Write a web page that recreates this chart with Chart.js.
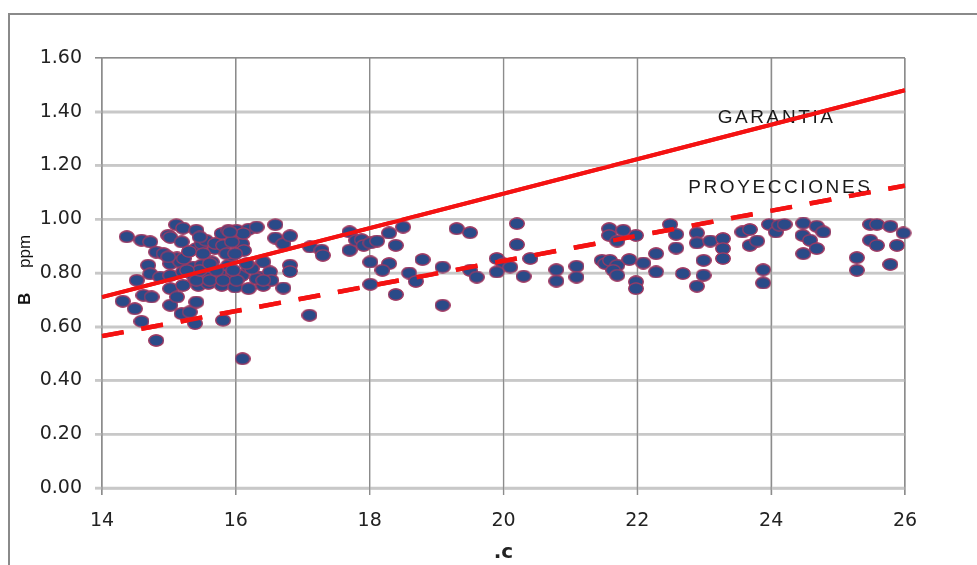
<!DOCTYPE html>
<html>
<head>
<meta charset="utf-8">
<script src="https://cdn.jsdelivr.net/npm/chart.js@4.4.1/dist/chart.umd.min.js"></script>
<style>
    html, body { margin: 0; padding: 0; background: #fff; }
    #wrap { width: 977px; height: 565px; }
</style>
</head>
<body>
<div id="wrap"><canvas id="chart" width="977" height="565"></canvas></div>
<script>
// =======================
// Data
// =======================
const sampleC = [
    14.31, 14.37, 14.49, 14.52, 14.59, 14.59, 14.62, 14.69, 14.72, 14.72, 14.74, 14.81, 14.81, 14.87, 14.92,
    14.99, 15.02, 15.02, 15.02, 15.02, 15.02, 15.11, 15.12, 15.12, 15.17, 15.19, 15.19, 15.21, 15.21, 15.21,
    15.31, 15.36, 15.38, 15.39, 15.41, 15.41, 15.41, 15.44, 15.44, 15.49, 15.49, 15.55, 15.59, 15.61, 15.64,
    15.69, 15.69, 15.79, 15.79, 15.79, 15.81, 15.81, 15.89, 15.89, 15.94, 15.96, 15.99, 15.99, 16.01, 16.09,
    16.09, 16.12, 16.10, 16.19, 16.19, 16.19, 16.31, 16.36, 16.41, 16.41, 16.51, 16.53, 16.59, 16.59, 16.71,
    16.71, 16.81, 16.81, 16.81,
    15.41, 15.61, 15.81, 16.01, 16.31, 15.46, 15.71, 15.96, 16.24, 16.41, 15.27, 16.11, 15.94, 15.86, 15.99,
    15.51, 15.22, 15.46, 15.91, 14.99, 15.30, 16.16, 15.61,
    17.11, 17.28, 17.30, 17.70, 17.70, 17.80, 17.88, 17.91, 18.01, 18.11, 18.29, 18.39, 18.50, 18.01, 18.29,
    18.19, 18.01, 17.10, 18.39, 18.59, 18.69, 18.79, 19.09, 19.09, 19.30, 19.50, 19.50, 19.60, 19.90, 20.00,
    19.90, 20.10, 20.20, 20.20, 20.30, 20.40,
    20.79, 20.79, 21.09, 21.09, 21.58, 21.58, 21.79, 21.70, 21.98, 21.47, 21.52, 21.59, 21.70, 21.64, 21.70,
    21.88, 22.09, 21.98, 21.98, 22.28, 22.28, 22.49, 22.58, 22.58, 22.68, 22.89, 22.89, 22.99, 22.99, 22.89,
    23.09, 23.28, 23.28, 23.28,
    23.57, 23.68, 23.68, 23.79, 23.88, 23.88, 23.97, 24.07, 24.12, 24.20, 24.48, 24.47, 24.48, 24.58, 24.68,
    24.78, 24.68, 25.28, 25.28, 25.48, 25.58, 25.78, 25.48, 25.58, 25.88, 25.78, 25.98
];
const sampleB = [
    0.695, 0.935, 0.667, 0.773, 0.922, 0.620, 0.717, 0.829, 0.916, 0.797, 0.711, 0.878, 0.549, 0.785, 0.872,
    0.940, 0.933, 0.835, 0.791, 0.742, 0.680, 0.980, 0.856, 0.711, 0.841, 0.916, 0.649, 0.967, 0.804, 0.754,
    0.655, 0.822, 0.785, 0.612, 0.959, 0.891, 0.692, 0.779, 0.754, 0.909, 0.829, 0.922, 0.761, 0.785, 0.841,
    0.891, 0.910, 0.947, 0.791, 0.754, 0.903, 0.624, 0.959, 0.829, 0.866, 0.797, 0.918, 0.748, 0.959, 0.909,
    0.791, 0.884, 0.481, 0.963, 0.822, 0.742, 0.971, 0.785, 0.841, 0.754, 0.804, 0.773, 0.980, 0.930, 0.909,
    0.744, 0.938, 0.829, 0.806,
    0.773, 0.773, 0.773, 0.773, 0.779, 0.810, 0.810, 0.810, 0.816, 0.773, 0.810, 0.947, 0.916, 0.872, 0.872,
    0.872, 0.854, 0.934, 0.953, 0.860, 0.880, 0.835, 0.835,
    0.897, 0.885, 0.866, 0.953, 0.885, 0.922, 0.924, 0.903, 0.912, 0.919, 0.949, 0.903, 0.971, 0.841, 0.835,
    0.810, 0.758, 0.643, 0.720, 0.800, 0.769, 0.850, 0.822, 0.680, 0.965, 0.950, 0.810, 0.785, 0.854, 0.835,
    0.804, 0.822, 0.984, 0.906, 0.788, 0.854,
    0.812, 0.770, 0.825, 0.785, 0.965, 0.940, 0.959, 0.919, 0.940, 0.847, 0.835, 0.847, 0.829, 0.810, 0.792,
    0.850, 0.837, 0.767, 0.742, 0.872, 0.804, 0.981, 0.944, 0.893, 0.798, 0.949, 0.912, 0.847, 0.792, 0.751,
    0.919, 0.928, 0.891, 0.854,
    0.953, 0.962, 0.903, 0.919, 0.812, 0.763, 0.981, 0.953, 0.978, 0.981, 0.986, 0.940, 0.872, 0.922, 0.974,
    0.953, 0.891, 0.857, 0.810, 0.981, 0.981, 0.974, 0.922, 0.903, 0.903, 0.832, 0.949
];
const lineC = [14, 26];
const garantiaB = [0.71, 1.48];
const proyeccionesB = [0.565, 1.125];

// oval marker like the spreadsheet one
function makeDot() {
    const c = document.createElement('canvas');
    c.width = 16;
    c.height = 13;
    const g = c.getContext('2d');
    g.beginPath();
    g.ellipse(8, 6.5, 7.2, 5.6, 0, 0, Math.PI * 2);
    g.fillStyle = '#2a4a88';
    g.fill();
    g.lineWidth = 1.2;
    g.strokeStyle = '#a33a62';
    g.stroke();
    return c;
}

const toPoints = (xs, ys) => xs.map((x, i) => ({ x: x, y: ys[i] }));

// =======================
// Grid, frame, titles, labels
// =======================
const decorations = {
    id: 'decorations',
    afterDatasetsDraw(chart) {
        const { ctx, chartArea: a, scales: { x, y } } = chart;
        ctx.save();
        ctx.setLineDash([]);
        // light horizontal lines with their ticks on the left, dark top edge
        y.ticks.forEach(t => {
            const py = y.getPixelForValue(t.value);
            const top = t.value > 1.59;
            ctx.strokeStyle = top ? '#8c8c8c' : '#c8c8c8';
            ctx.lineWidth = top ? 1.2 : 2.5;
            ctx.beginPath();
            ctx.moveTo(a.left - 7, py);
            ctx.lineTo(a.right, py);
            ctx.stroke();
        });
        // dark vertical lines running down into the tick marks
        x.ticks.forEach(t => {
            const px = x.getPixelForValue(t.value);
            ctx.strokeStyle = '#8c8c8c';
            ctx.lineWidth = 1.2;
            ctx.beginPath();
            ctx.moveTo(px, a.top);
            ctx.lineTo(px, a.bottom + 7);
            ctx.stroke();
        });
        ctx.font = '19px "Liberation Sans"';
        ctx.letterSpacing = '2.6px';
        ctx.fillStyle = '#1a1a1a';
        ctx.textBaseline = 'middle';
        ctx.fillText('GARANTIA', x.getPixelForValue(23.2), y.getPixelForValue(1.376));
        ctx.fillText('PROYECCIONES', x.getPixelForValue(22.76), y.getPixelForValue(1.119));
        ctx.restore();

        // put the marks back on top of the grid: dots first, then the two lines
        ctx.save();
        ctx.beginPath();
        ctx.rect(a.left - 8, a.top - 8, a.right - a.left + 16, a.bottom - a.top + 16);
        ctx.clip();
        [2, 1, 0].forEach(i => chart.getDatasetMeta(i).controller.draw());
        ctx.restore();
    },
    afterDraw(chart) {
        const ctx = chart.ctx;
        ctx.save();
        ctx.setLineDash([]);
        ctx.strokeStyle = '#8a8a8a';
        ctx.lineWidth = 2;
        ctx.strokeRect(9, 14, chart.width + 20, chart.height + 20);
        // y title: bold B, plain ppm
        ctx.translate(30, 305);
        ctx.rotate(-Math.PI / 2);
        ctx.fillStyle = '#111';
        ctx.textBaseline = 'alphabetic';
        ctx.font = 'bold 17px "Liberation Sans"';
        ctx.fillText('B', 0, 0);
        ctx.font = '17px "Liberation Sans"';
        ctx.fillText('ppm', 37, 0);
        ctx.restore();
    }
};

const tickFont = { family: 'DejaVu Sans', size: 19 };

new Chart(document.querySelector('#chart'), {
    type: 'scatter',
    data: {
        datasets: [{
            label: 'GARANTIA',
            data: toPoints(lineC, garantiaB),
            showLine: true,
            fill: false,
            backgroundColor: 'rgba(0,0,0,0)',
            borderColor: '#f41212',
            borderWidth: 4,
            pointRadius: 0
        }, {
            label: 'PROYECCIONES',
            data: toPoints(lineC, proyeccionesB),
            showLine: true,
            fill: false,
            backgroundColor: 'rgba(0,0,0,0)',
            borderColor: '#f41212',
            borderWidth: 4.5,
            borderDash: [22, 18],
            pointRadius: 0
        }, {
            label: 'B ppm',
            data: toPoints(sampleC, sampleB),
            showLine: false,
            fill: false,
            backgroundColor: '#2a4a88',
            borderColor: '#a33a62',
            pointStyle: makeDot(),
            pointRadius: 7
        }]
    },
    options: {
        responsive: false,
        animation: false,
        layout: {
            padding: { left: 10, top: 58, right: 72, bottom: 0 }
        },
        plugins: {
            filler: false,
            legend: { display: false },
            tooltip: { enabled: false }
        },
        scales: {
            x: {
                type: 'linear',
                min: 14,
                max: 26,
                afterFit(s) { s.height = 77; },
                ticks: { stepSize: 2, color: '#222', font: tickFont, padding: 15, maxRotation: 0 },
                grid: { color: '#8c8c8c', lineWidth: 1.2, tickLength: 7 },
                border: { color: '#c4c4c4', width: 2.5 },
                title: {
                    display: true,
                    text: '.c',
                    color: '#222',
                    font: { family: 'DejaVu Sans', size: 20, weight: 'bold' },
                    padding: 0
                }
            },
            y: {
                min: 0,
                max: 1.6,
                afterFit(s) { s.width = 92; },
                ticks: {
                    stepSize: 0.2,
                    color: '#222',
                    font: tickFont,
                    padding: 13,
                    callback: v => v.toFixed(2)
                },
                grid: {
                    color: c => (c.tick && c.tick.value > 1.59 ? '#8c8c8c' : '#c8c8c8'),
                    lineWidth: c => (c.tick && c.tick.value > 1.59 ? 1.2 : 2.5),
                    tickLength: 7
                },
                border: { color: '#8c8c8c', width: 1.2 }
            }
        }
    },
    plugins: [decorations]
});
</script>
</body>
</html>
